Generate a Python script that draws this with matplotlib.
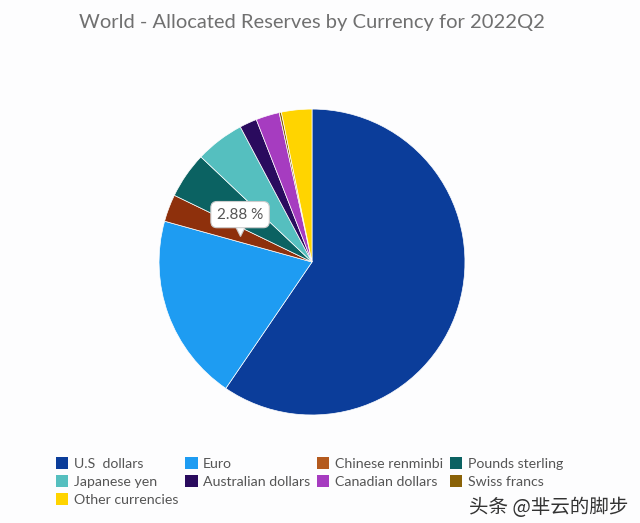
## World - Allocated Reserves by Currency, 2022Q2
import matplotlib
matplotlib.use('Agg')
import matplotlib.pyplot as plt
from matplotlib.patches import Patch

## Data
currencies = ['U.S. dollars', 'Euro', 'Chinese renminbi', 'Pounds sterling', 'Japanese yen',
              'Australian dollars', 'Canadian dollars', 'Swiss francs', 'Other currencies']
shares = [59.53, 19.77, 2.88, 4.88, 5.18, 1.83, 2.49, 0.23, 3.21]
slice_colors = ['#0b3d9a', '#1e9cf2', '#8e300c', '#0b6262', '#55bfbf',
                '#2a0b5e', '#a63cc0', '#8a6208', '#ffd400']
legend_colors = ['#0b3d9a', '#1e9cf2', '#b45a1e', '#0b6262', '#55bfbf',
                 '#2a0b5e', '#a63cc0', '#8a6208', '#ffd400']
legend_labels = ['U.S  dollars', 'Euro', 'Chinese renminbi', 'Pounds sterling', 'Japanese yen',
                 'Australian dollars', 'Canadian dollars', 'Swiss francs', 'Other currencies']

plt.rcParams['font.family'] = ['Lato', 'DejaVu Sans']

fig = plt.figure(figsize=(6.4, 5.23), dpi=100)
fig.patch.set_facecolor('#fdfdfe')

## Pie
ax = fig.add_axes([0.2485, 0.2065, 0.478, 0.585])
ax.pie(shares, colors=slice_colors, startangle=90, counterclock=False,
       wedgeprops=dict(edgecolor='white', linewidth=0.5))
ax.set_aspect('equal')
ax.set_xlim(-1, 1)
ax.set_ylim(-1, 1)

# hover tooltip on renminbi
ax.plot([-0.47], [0.205], marker='v', ms=7, mfc='white', mec='#cccccc', mew=0.8, zorder=5)
ax.text(-0.47, 0.31, '2.88 %', ha='center', va='center', fontsize=11, color='#555555', zorder=6,
        bbox=dict(boxstyle='round,pad=0.4', fc='white', ec='#cccccc', lw=0.8))

## Title
fig.text(0.4875, 0.957, 'World - Allocated Reserves by Currency for 2022Q2',
         ha='center', va='center', fontsize=14.5, color='#707070')

## Legend (row-major order via column-major fill)
order = [0, 4, 8, 1, 5, 2, 6, 3, 7]
handles = [Patch(facecolor=legend_colors[i], edgecolor='none') for i in order]
labels = [legend_labels[i] for i in order]
fig.legend(handles, labels, ncol=4, loc='upper left', bbox_to_anchor=(0.078, 0.137),
           frameon=False, fontsize=10.2, labelcolor='#555555',
           handlelength=0.9, handleheight=0.9, handletextpad=0.4,
           columnspacing=0.45, labelspacing=0.38, borderaxespad=0)

## Watermark
fig.text(0.982, 0.029, '头条 @芈云的脚步', ha='right', va='center', fontsize=14,
         color='#333333', family=['Noto Sans CJK SC', 'DejaVu Sans'])

fig.savefig('out.png', dpi=100, facecolor=fig.get_facecolor())
